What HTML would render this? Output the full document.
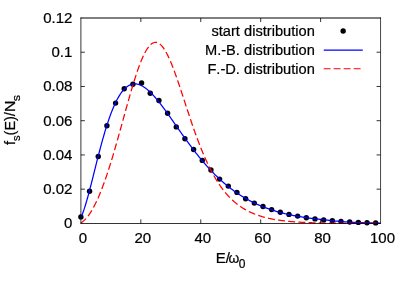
<!DOCTYPE html>
<html><head><meta charset="utf-8"><title>distribution plot</title>
<style>
html,body{margin:0;padding:0;background:#fff;}
body{width:407px;height:285px;overflow:hidden;}
svg{display:block;will-change:transform;}
text{font-family:"Liberation Sans",sans-serif;font-size:15px;fill:#000;font-kerning:none;stroke:#000;stroke-width:0.22px;}
</style></head><body>
<svg width="407" height="285" viewBox="0 0 407 285">
<rect x="0" y="0" width="407" height="285" fill="#fff"/>
<g fill="#000"><circle cx="80.90" cy="216.90" r="2.7"/><circle cx="89.57" cy="191.20" r="2.7"/><circle cx="98.24" cy="156.50" r="2.7"/><circle cx="106.91" cy="125.70" r="2.7"/><circle cx="115.58" cy="103.10" r="2.7"/><circle cx="124.25" cy="88.75" r="2.7"/><circle cx="132.92" cy="84.20" r="2.7"/><circle cx="141.59" cy="82.90" r="2.7"/><circle cx="150.26" cy="93.30" r="2.7"/><circle cx="158.93" cy="100.50" r="2.7"/><circle cx="167.60" cy="113.30" r="2.7"/><circle cx="176.27" cy="126.90" r="2.7"/><circle cx="184.94" cy="138.70" r="2.7"/><circle cx="193.61" cy="149.50" r="2.7"/><circle cx="202.28" cy="160.40" r="2.7"/><circle cx="210.95" cy="170.00" r="2.7"/><circle cx="219.62" cy="179.10" r="2.7"/><circle cx="228.29" cy="186.10" r="2.7"/><circle cx="236.96" cy="192.40" r="2.7"/><circle cx="245.63" cy="198.70" r="2.7"/><circle cx="254.30" cy="203.10" r="2.7"/><circle cx="262.97" cy="206.50" r="2.7"/><circle cx="271.64" cy="209.60" r="2.7"/><circle cx="280.31" cy="212.20" r="2.7"/><circle cx="288.98" cy="214.40" r="2.7"/><circle cx="297.65" cy="216.10" r="2.7"/><circle cx="306.32" cy="217.70" r="2.7"/><circle cx="314.99" cy="218.90" r="2.7"/><circle cx="323.66" cy="219.90" r="2.7"/><circle cx="332.33" cy="220.80" r="2.7"/><circle cx="341.00" cy="221.40" r="2.7"/><circle cx="349.67" cy="222.00" r="2.7"/><circle cx="358.34" cy="222.40" r="2.7"/><circle cx="367.01" cy="222.70" r="2.7"/><circle cx="375.68" cy="222.90" r="2.7"/></g>
<path d="M80.90,217.43 L81.65,215.79 L82.40,213.98 L83.15,212.00 L83.90,209.88 L84.64,207.63 L85.39,205.26 L86.14,202.78 L86.89,200.20 L87.64,197.54 L88.39,194.80 L89.14,192.00 L89.89,189.15 L90.63,186.25 L91.38,183.32 L92.13,180.36 L92.88,177.38 L93.63,174.38 L94.38,171.39 L95.13,168.39 L95.88,165.40 L96.62,162.43 L97.37,159.47 L98.12,156.54 L98.87,153.64 L99.62,150.77 L100.37,147.93 L101.12,145.14 L101.87,142.40 L102.61,139.70 L103.36,137.05 L104.11,134.46 L104.86,131.92 L105.61,129.44 L106.36,127.02 L107.11,124.66 L107.86,122.36 L108.60,120.13 L109.35,117.97 L110.10,115.87 L110.85,113.84 L111.60,111.88 L112.35,109.98 L113.10,108.16 L113.84,106.41 L114.59,104.72 L115.34,103.11 L116.09,101.56 L116.84,100.09 L117.59,98.68 L118.34,97.34 L119.09,96.07 L119.84,94.87 L120.58,93.74 L121.33,92.68 L122.08,91.68 L122.83,90.74 L123.58,89.87 L124.33,89.06 L125.08,88.32 L125.83,87.64 L126.57,87.02 L127.32,86.46 L128.07,85.95 L128.82,85.51 L129.57,85.12 L130.32,84.79 L131.07,84.51 L131.81,84.28 L132.56,84.11 L133.31,83.99 L134.06,83.91 L134.81,83.89 L135.56,83.91 L136.31,83.98 L137.06,84.09 L137.81,84.25 L138.55,84.45 L139.30,84.69 L140.05,84.97 L140.80,85.29 L141.55,85.65 L142.30,86.05 L143.05,86.48 L143.80,86.94 L144.54,87.44 L145.29,87.97 L146.04,88.53 L146.79,89.12 L147.54,89.74 L148.29,90.38 L149.04,91.06 L149.79,91.75 L150.53,92.48 L151.28,93.22 L152.03,93.99 L152.78,94.78 L153.53,95.59 L154.28,96.42 L155.03,97.27 L155.78,98.14 L156.52,99.03 L157.27,99.93 L158.02,100.84 L158.77,101.77 L159.52,102.72 L160.27,103.67 L161.02,104.64 L161.77,105.62 L162.51,106.61 L163.26,107.61 L164.01,108.62 L164.76,109.64 L165.51,110.67 L166.26,111.70 L167.01,112.74 L167.75,113.78 L168.50,114.83 L169.25,115.89 L170.00,116.95 L170.75,118.01 L171.50,119.08 L172.25,120.14 L173.00,121.21 L173.75,122.28 L174.49,123.36 L175.24,124.43 L175.99,125.50 L176.74,126.58 L177.49,127.65 L178.24,128.72 L178.99,129.79 L179.74,130.86 L180.48,131.92 L181.23,132.99 L181.98,134.05 L182.73,135.10 L183.48,136.16 L184.23,137.20 L184.98,138.25 L185.73,139.29 L186.47,140.33 L187.22,141.36 L187.97,142.38 L188.72,143.40 L189.47,144.42 L190.22,145.43 L190.97,146.43 L191.72,147.43 L192.46,148.42 L193.21,149.40 L193.96,150.38 L194.71,151.35 L195.46,152.31 L196.21,153.27 L196.96,154.22 L197.71,155.16 L198.45,156.09 L199.20,157.02 L199.95,157.94 L200.70,158.85 L201.45,159.75 L202.20,160.65 L202.95,161.53 L203.69,162.41 L204.44,163.28 L205.19,164.14 L205.94,165.00 L206.69,165.84 L207.44,166.68 L208.19,167.51 L208.94,168.33 L209.69,169.14 L210.43,169.94 L211.18,170.73 L211.93,171.52 L212.68,172.30 L213.43,173.06 L214.18,173.82 L214.93,174.58 L215.68,175.32 L216.42,176.05 L217.17,176.78 L217.92,177.50 L218.67,178.20 L219.42,178.90 L220.17,179.60 L220.92,180.28 L221.67,180.95 L222.41,181.62 L223.16,182.28 L223.91,182.93 L224.66,183.57 L225.41,184.20 L226.16,184.83 L226.91,185.45 L227.66,186.06 L228.40,186.66 L229.15,187.25 L229.90,187.84 L230.65,188.41 L231.40,188.98 L232.15,189.54 L232.90,190.10 L233.65,190.65 L234.39,191.18 L235.14,191.72 L235.89,192.24 L236.64,192.76 L237.39,193.27 L238.14,193.77 L238.89,194.26 L239.64,194.75 L240.38,195.23 L241.13,195.71 L241.88,196.17 L242.63,196.63 L243.38,197.09 L244.13,197.53 L244.88,197.97 L245.62,198.41 L246.37,198.83 L247.12,199.25 L247.87,199.67 L248.62,200.07 L249.37,200.48 L250.12,200.87 L250.87,201.26 L251.62,201.64 L252.36,202.02 L253.11,202.39 L253.86,202.76 L254.61,203.12 L255.36,203.47 L256.11,203.82 L256.86,204.16 L257.61,204.50 L258.35,204.83 L259.10,205.16 L259.85,205.48 L260.60,205.80 L261.35,206.11 L262.10,206.41 L262.85,206.72 L263.60,207.01 L264.34,207.30 L265.09,207.59 L265.84,207.87 L266.59,208.15 L267.34,208.42 L268.09,208.69 L268.84,208.95 L269.59,209.21 L270.33,209.47 L271.08,209.72 L271.83,209.96 L272.58,210.21 L273.33,210.44 L274.08,210.68 L274.83,210.91 L275.58,211.13 L276.32,211.36 L277.07,211.57 L277.82,211.79 L278.57,212.00 L279.32,212.21 L280.07,212.41 L280.82,212.61 L281.57,212.81 L282.31,213.00 L283.06,213.19 L283.81,213.38 L284.56,213.56 L285.31,213.74 L286.06,213.92 L286.81,214.09 L287.56,214.26 L288.30,214.43 L289.05,214.59 L289.80,214.75 L290.55,214.91 L291.30,215.07 L292.05,215.22 L292.80,215.37 L293.55,215.52 L294.29,215.66 L295.04,215.81 L295.79,215.94 L296.54,216.08 L297.29,216.22 L298.04,216.35 L298.79,216.48 L299.54,216.61 L300.28,216.73 L301.03,216.85 L301.78,216.97 L302.53,217.09 L303.28,217.21 L304.03,217.32 L304.78,217.43 L305.52,217.54 L306.27,217.65 L307.02,217.76 L307.77,217.86 L308.52,217.96 L309.27,218.06 L310.02,218.16 L310.77,218.26 L311.51,218.35 L312.26,218.44 L313.01,218.53 L313.76,218.62 L314.51,218.71 L315.26,218.80 L316.01,218.88 L316.76,218.97 L317.50,219.06 L318.25,219.14 L319.00,219.23 L319.75,219.31 L320.50,219.40 L321.25,219.48 L322.00,219.57 L322.75,219.65 L323.50,219.74 L324.24,219.82 L324.99,219.90 L325.74,219.99 L326.49,220.07 L327.24,220.15 L327.99,220.23 L328.74,220.31 L329.49,220.39 L330.23,220.47 L330.98,220.55 L331.73,220.63 L332.48,220.71 L333.23,220.78 L333.98,220.86 L334.73,220.93 L335.48,221.01 L336.22,221.08 L336.97,221.15 L337.72,221.22 L338.47,221.29 L339.22,221.36 L339.97,221.42 L340.72,221.49 L341.47,221.55 L342.21,221.62 L342.96,221.68 L343.71,221.74 L344.46,221.80 L345.21,221.85 L345.96,221.91 L346.71,221.96 L347.46,222.02 L348.20,222.07 L348.95,222.12 L349.70,222.16 L350.45,222.21 L351.20,222.25 L351.95,222.29 L352.70,222.33 L353.45,222.37 L354.19,222.41 L354.94,222.44 L355.69,222.47 L356.44,222.50 L357.19,222.53 L357.94,222.56 L358.69,222.59 L359.44,222.61 L360.18,222.64 L360.93,222.66 L361.68,222.69 L362.43,222.71 L363.18,222.74 L363.93,222.76 L364.68,222.78 L365.43,222.81 L366.17,222.83 L366.92,222.85 L367.67,222.87 L368.42,222.89 L369.17,222.91 L369.92,222.93 L370.67,222.95 L371.41,222.97 L372.16,222.99 L372.91,223.01 L373.66,223.03 L374.41,223.04 L375.16,223.06 L375.91,223.08 L376.66,223.09 L377.40,223.11 L378.15,223.13 L378.90,223.14 L379.65,223.16 L380.40,223.17" fill="none" stroke="#0000ff" stroke-width="1.25"/>
<path d="M80.90,223.00 L81.65,222.49 L82.40,221.93 L83.15,221.32 L83.90,220.66 L84.64,219.95 L85.39,219.18 L86.14,218.36 L86.89,217.48 L87.64,216.55 L88.39,215.57 L89.14,214.53 L89.89,213.44 L90.63,212.29 L91.38,211.09 L92.13,209.84 L92.88,208.53 L93.63,207.17 L94.38,205.76 L95.13,204.29 L95.88,202.77 L96.62,201.20 L97.37,199.58 L98.12,197.91 L98.87,196.18 L99.62,194.41 L100.37,192.59 L101.12,190.72 L101.87,188.81 L102.61,186.85 L103.36,184.84 L104.11,182.79 L104.86,180.69 L105.61,178.55 L106.36,176.37 L107.11,174.15 L107.86,171.89 L108.60,169.59 L109.35,167.25 L110.10,164.88 L110.85,162.47 L111.60,160.03 L112.35,157.56 L113.10,155.06 L113.84,152.53 L114.59,149.98 L115.34,147.39 L116.09,144.79 L116.84,142.16 L117.59,139.52 L118.34,136.86 L119.09,134.18 L119.84,131.49 L120.58,128.79 L121.33,126.08 L122.08,123.36 L122.83,120.65 L123.58,117.93 L124.33,115.21 L125.08,112.49 L125.83,109.79 L126.57,107.09 L127.32,104.41 L128.07,101.74 L128.82,99.09 L129.57,96.46 L130.32,93.86 L131.07,91.28 L131.81,88.74 L132.56,86.23 L133.31,83.76 L134.06,81.33 L134.81,78.95 L135.56,76.61 L136.31,74.32 L137.06,72.09 L137.81,69.92 L138.55,67.81 L139.30,65.76 L140.05,63.78 L140.80,61.87 L141.55,60.03 L142.30,58.27 L143.05,56.59 L143.80,54.99 L144.54,53.48 L145.29,52.05 L146.04,50.72 L146.79,49.47 L147.54,48.32 L148.29,47.27 L149.04,46.32 L149.79,45.46 L150.53,44.71 L151.28,44.06 L152.03,43.51 L152.78,43.07 L153.53,42.73 L154.28,42.49 L155.03,42.37 L155.78,42.34 L156.52,42.43 L157.27,42.61 L158.02,42.90 L158.77,43.30 L159.52,43.79 L160.27,44.38 L161.02,45.08 L161.77,45.87 L162.51,46.75 L163.26,47.73 L164.01,48.80 L164.76,49.95 L165.51,51.19 L166.26,52.52 L167.01,53.92 L167.75,55.40 L168.50,56.95 L169.25,58.57 L170.00,60.26 L170.75,62.01 L171.50,63.82 L172.25,65.68 L173.00,67.60 L173.75,69.57 L174.49,71.59 L175.24,73.64 L175.99,75.74 L176.74,77.86 L177.49,80.03 L178.24,82.21 L178.99,84.43 L179.74,86.66 L180.48,88.92 L181.23,91.18 L181.98,93.46 L182.73,95.75 L183.48,98.05 L184.23,100.35 L184.98,102.65 L185.73,104.95 L186.47,107.24 L187.22,109.53 L187.97,111.81 L188.72,114.07 L189.47,116.33 L190.22,118.57 L190.97,120.79 L191.72,123.00 L192.46,125.19 L193.21,127.35 L193.96,129.49 L194.71,131.61 L195.46,133.71 L196.21,135.77 L196.96,137.81 L197.71,139.83 L198.45,141.81 L199.20,143.77 L199.95,145.69 L200.70,147.59 L201.45,149.45 L202.20,151.28 L202.95,153.08 L203.69,154.85 L204.44,156.59 L205.19,158.29 L205.94,159.96 L206.69,161.60 L207.44,163.21 L208.19,164.78 L208.94,166.33 L209.69,167.84 L210.43,169.32 L211.18,170.76 L211.93,172.18 L212.68,173.56 L213.43,174.91 L214.18,176.24 L214.93,177.53 L215.68,178.79 L216.42,180.02 L217.17,181.22 L217.92,182.40 L218.67,183.54 L219.42,184.66 L220.17,185.75 L220.92,186.82 L221.67,187.85 L222.41,188.86 L223.16,189.85 L223.91,190.81 L224.66,191.74 L225.41,192.65 L226.16,193.54 L226.91,194.40 L227.66,195.24 L228.40,196.06 L229.15,196.86 L229.90,197.63 L230.65,198.38 L231.40,199.12 L232.15,199.83 L232.90,200.53 L233.65,201.20 L234.39,201.86 L235.14,202.50 L235.89,203.12 L236.64,203.72 L237.39,204.31 L238.14,204.88 L238.89,205.43 L239.64,205.97 L240.38,206.50 L241.13,207.01 L241.88,207.50 L242.63,207.98 L243.38,208.45 L244.13,208.90 L244.88,209.35 L245.62,209.77 L246.37,210.19 L247.12,210.59 L247.87,210.99 L248.62,211.37 L249.37,211.74 L250.12,212.10 L250.87,212.45 L251.62,212.79 L252.36,213.11 L253.11,213.43 L253.86,213.74 L254.61,214.04 L255.36,214.34 L256.11,214.62 L256.86,214.90 L257.61,215.16 L258.35,215.42 L259.10,215.67 L259.85,215.92 L260.60,216.15 L261.35,216.38 L262.10,216.61 L262.85,216.82 L263.60,217.03 L264.34,217.24 L265.09,217.43 L265.84,217.63 L266.59,217.81 L267.34,217.99 L268.09,218.17 L268.84,218.34 L269.59,218.50 L270.33,218.66 L271.08,218.82 L271.83,218.97 L272.58,219.11 L273.33,219.25 L274.08,219.39 L274.83,219.52 L275.58,219.65 L276.32,219.78 L277.07,219.90 L277.82,220.02 L278.57,220.13 L279.32,220.24 L280.07,220.35 L280.82,220.45 L281.57,220.55 L282.31,220.65 L283.06,220.74 L283.81,220.83 L284.56,220.92 L285.31,221.01 L286.06,221.09 L286.81,221.17 L287.56,221.25 L288.30,221.32 L289.05,221.40 L289.80,221.47 L290.55,221.54 L291.30,221.60 L292.05,221.67 L292.80,221.73 L293.55,221.79 L294.29,221.85 L295.04,221.90 L295.79,221.95 L296.54,222.01 L297.29,222.06 L298.04,222.11 L298.79,222.15 L299.54,222.20 L300.28,222.24 L301.03,222.28 L301.78,222.32 L302.53,222.36 L303.28,222.40 L304.03,222.43 L304.78,222.47 L305.52,222.50 L306.27,222.53 L307.02,222.56 L307.77,222.59 L308.52,222.62 L309.27,222.65 L310.02,222.68 L310.77,222.70 L311.51,222.73 L312.26,222.75 L313.01,222.78 L313.76,222.80 L314.51,222.82 L315.26,222.84 L316.01,222.86 L316.76,222.88 L317.50,222.90 L318.25,222.92 L319.00,222.94 L319.75,222.96 L320.50,222.97 L321.25,222.99 L322.00,223.00 L322.75,223.02 L323.50,223.03 L324.24,223.05 L324.99,223.06 L325.74,223.07 L326.49,223.09 L327.24,223.10 L327.99,223.11 L328.74,223.12 L329.49,223.13 L330.23,223.15 L330.98,223.16 L331.73,223.17 L332.48,223.18 L333.23,223.18 L333.98,223.19 L334.73,223.20 L335.48,223.21 L336.22,223.22 L336.97,223.23 L337.72,223.23 L338.47,223.24 L339.22,223.25 L339.97,223.26 L340.72,223.26 L341.47,223.27 L342.21,223.28 L342.96,223.28 L343.71,223.29 L344.46,223.29 L345.21,223.30 L345.96,223.30 L346.71,223.31 L347.46,223.31 L348.20,223.32 L348.95,223.32 L349.70,223.33 L350.45,223.33 L351.20,223.34 L351.95,223.34 L352.70,223.34 L353.45,223.35 L354.19,223.35 L354.94,223.35 L355.69,223.36 L356.44,223.36 L357.19,223.36 L357.94,223.37 L358.69,223.37 L359.44,223.37 L360.18,223.37 L360.93,223.38 L361.68,223.38 L362.43,223.38 L363.18,223.38 L363.93,223.39 L364.68,223.39 L365.43,223.39 L366.17,223.39 L366.92,223.40 L367.67,223.40 L368.42,223.40 L369.17,223.40 L369.92,223.40 L370.67,223.40 L371.41,223.41 L372.16,223.41 L372.91,223.41 L373.66,223.41 L374.41,223.41 L375.16,223.41 L375.91,223.41 L376.66,223.42 L377.40,223.42 L378.15,223.42 L378.90,223.42 L379.65,223.42 L380.40,223.42" fill="none" stroke="#ff0000" stroke-width="1.25" stroke-dasharray="7 3.2" stroke-dashoffset="0.3"/>
<g fill="none" stroke="#000"><path d="M80.90,17.50 V223.80" stroke-width="0.8"/><path d="M80.50,18.00 H380.91" stroke-width="1"/><path d="M380.55,17.50 V223.80" stroke-width="0.72"/><path d="M80.50,223.5 H380.91" stroke-width="0.8"/></g>
<path d="M140.83,223.40 v-4.0 M140.83,18.00 v4.0 M200.76,223.40 v-4.0 M200.76,18.00 v4.0 M260.69,223.40 v-4.0 M260.69,18.00 v4.0 M320.62,223.40 v-4.0 M320.62,18.00 v4.0 M80.90,189.17 h4.0 M380.55,189.17 h-4.0 M80.90,154.93 h4.0 M380.55,154.93 h-4.0 M80.90,120.70 h4.0 M380.55,120.70 h-4.0 M80.90,86.47 h4.0 M380.55,86.47 h-4.0 M80.90,52.23 h4.0 M380.55,52.23 h-4.0 " fill="none" stroke="#000" stroke-width="0.8"/>
<g><text x="72.4" y="228.00" text-anchor="end">0</text><text x="72.4" y="193.85" text-anchor="end">0.02</text><text x="72.4" y="159.70" text-anchor="end">0.04</text><text x="72.4" y="125.55" text-anchor="end">0.06</text><text x="72.4" y="91.40" text-anchor="end">0.08</text><text x="72.4" y="57.25" text-anchor="end">0.1</text><text x="72.4" y="23.10" text-anchor="end">0.12</text></g>
<g><text x="82.90" y="243.2" text-anchor="middle">0</text><text x="142.83" y="243.2" text-anchor="middle">20</text><text x="202.76" y="243.2" text-anchor="middle">40</text><text x="262.69" y="243.2" text-anchor="middle">60</text><text x="322.62" y="243.2" text-anchor="middle">80</text><text x="382.55" y="243.2" text-anchor="middle">100</text></g>
<text x="215.7" y="262.9">E/</text><text transform="translate(228.6,262.9) scale(0.92,1)">&#969;</text><text x="238.7" y="268.3" style="font-size:12px">0</text>
<text transform="translate(14.95,145.0) rotate(-90) scale(0.965,1)">f<tspan dy="4.8" font-size="11.5px">s</tspan><tspan dy="-4.8">(E)/</tspan></text><text transform="translate(14.95,112.1) rotate(-90) scale(1.06,1)">N</text><text transform="translate(20.3,101.3) rotate(-90) scale(1.1,1)" style="font-size:11.5px">s</text>
<text transform="translate(314.8,35.9) scale(0.977,1)" text-anchor="end">start distribution</text>
<text transform="translate(314.8,54.8) scale(0.977,1)" text-anchor="end">M.-B. distribution</text>
<text transform="translate(314.8,73.5) scale(0.977,1)" text-anchor="end">F.-D. distribution</text>
<circle cx="343.15" cy="31" r="2.7" fill="#000"/>
<path d="M323.7,50.1 H362.8" stroke="#0000ff" stroke-width="1.05" fill="none"/>
<path d="M323.7,68.8 H362.8" stroke="#ff0000" stroke-width="1.05" stroke-dasharray="6.9 3.1" fill="none"/>
</svg>
</body></html>
